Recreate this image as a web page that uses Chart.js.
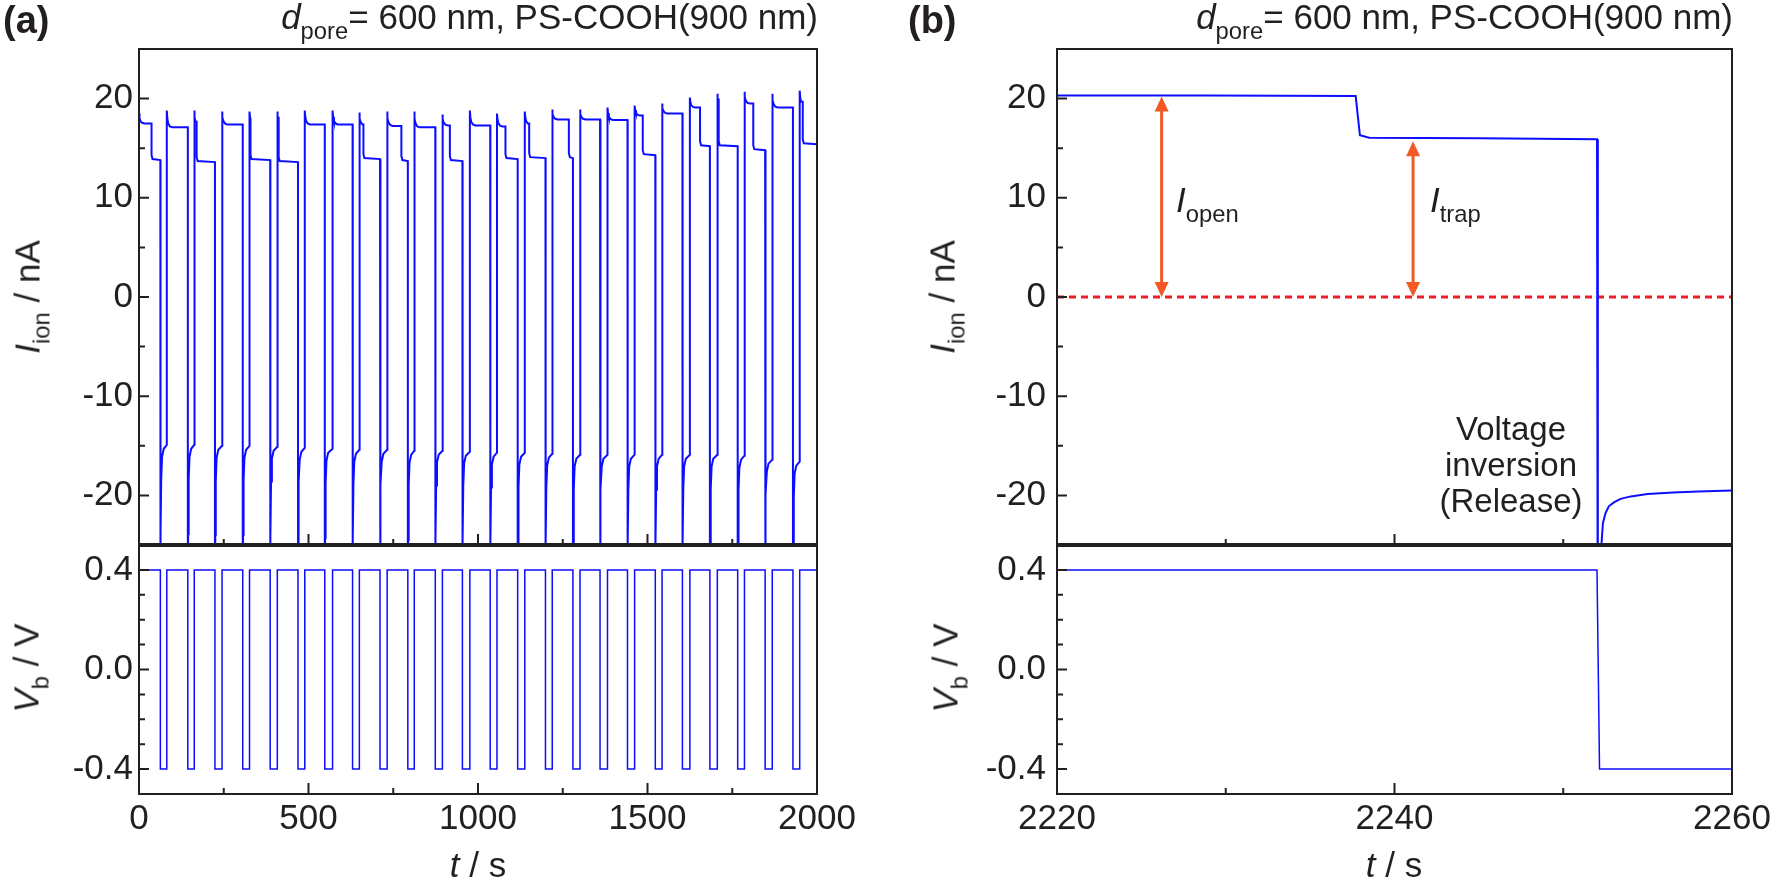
<!DOCTYPE html>
<html>
<head>
<meta charset="utf-8">
<script src="https://cdn.jsdelivr.net/npm/chart.js@4.4.1/dist/chart.umd.min.js"></script>
<style>
  html, body { margin: 0; padding: 0; background: #fff; }
  #page { position: relative; width: 1772px; height: 882px; overflow: hidden;
          font-family: 'Liberation Sans', Arial, sans-serif; color: #231f20; }
  canvas { position: absolute; left: 0; top: 0; }
  .txt { position: absolute; white-space: nowrap; line-height: 1; }
  .lab { font-size: 38px; font-weight: bold; }
  .ttl { font-size: 35px; }
  .sub { font-size: 0.68em; position: relative; top: 0.42em; }
  .ax { font-size: 35px; transform: translate(-50%, -50%) rotate(-90deg); }
  .xt { font-size: 35px; transform: translateX(-50%); }
  .note { font-size: 33px; line-height: 36px; text-align: center; transform: translateX(-50%); }
</style>
</head>
<body>
<div id="page">
  <canvas id="aTop" width="1772" height="882"></canvas>
  <canvas id="aBot" width="1772" height="882"></canvas>
  <canvas id="bTop" width="1772" height="882"></canvas>
  <canvas id="bBot" width="1772" height="882"></canvas>

  <div class="txt lab" style="left:3px;top:1px">(a)</div>
  <div class="txt lab" style="left:908px;top:1px">(b)</div>
  <div class="txt ttl" style="right:954px;top:-1px"><i>d</i><span class="sub">pore</span>= 600 nm, PS-COOH(900 nm)</div>
  <div class="txt ttl" style="right:39px;top:-1px"><i>d</i><span class="sub">pore</span>= 600 nm, PS-COOH(900 nm)</div>

  <div class="txt ax" style="left:27px;top:297px"><i>I</i><span class="sub">ion</span> / nA</div>
  <div class="txt ax" style="left:26px;top:668px"><i>V</i><span class="sub">b</span> / V</div>
  <div class="txt ax" style="left:942px;top:297px"><i>I</i><span class="sub">ion</span> / nA</div>
  <div class="txt ax" style="left:945px;top:668px"><i>V</i><span class="sub">b</span> / V</div>

  <div class="txt xt" style="left:478px;top:847px"><i>t</i> / s</div>
  <div class="txt xt" style="left:1394px;top:847px"><i>t</i> / s</div>

  <div class="txt" style="left:1176px;top:182px;font-size:35px"><i>I</i><span class="sub">open</span></div>
  <div class="txt" style="left:1430px;top:182px;font-size:35px"><i>I</i><span class="sub">trap</span></div>
  <div class="txt note" style="left:1511px;top:411px">Voltage<br>inversion<br>(Release)</div>
</div>

<script>
const INK = '#231f20';
const BLUE = '#0d0dff';
const RED = '#ee1c24';
const ORANGE = '#f15a24';
const TICK_FONT = { family: "'Liberation Sans', Arial, sans-serif", size: 35 };

// ---- (a) 0-2000 s, switching between +0.4 V and -0.4 V ----
const posStart = [0, 82, 163, 245, 326, 408, 489, 571, 650, 732, 812, 895, 976,
                  1056, 1138, 1219, 1301, 1382, 1462, 1543, 1625, 1706, 1786, 1868, 1949];
const negStart = [63, 144, 224, 306, 387, 469, 548, 630, 711, 793, 874, 954,
                  1036, 1117, 1199, 1280, 1360, 1441, 1523, 1603, 1684, 1766, 1847, 1929];
const biasLevels = [0.4, -0.4];
const spikeI = [18.5, 18.8, 18.8, 18.7, 18.7, 18.7, 18.8, 18.8, 18.6, 18.7, 18.7, 18.4, 18.8,
                18.5, 18.7, 18.9, 18.9, 19.1, 19.3, 19.5, 20.1, 20.5, 20.7, 20.5, 20.8];
const openI = [17.5, 17.1, 17.3, 17.4, 17.3, 17.3, 17.4, 17.4, 17.3, 17.25, 17.1, 17.3, 17.3,
               17.2, 17.4, 17.9, 17.9, 17.85, 18.3, 18.5, 19.1, 19.2, 19.5, 19.1, 19.3];
const trapT = [37, null, 170, null, 329, 412, null, null, 662, 774, null, 917, null,
               1081, 1151, 1268, null, null, 1486, null, 1655, 1710, 1812, null, 1958];
const trapI = [13.9, null, 13.7, null, 13.9, 13.7, null, null, 14.0, 13.8, null, 13.8, null,
               14.0, 14.1, 14.1, null, null, 14.4, null, 15.3, 15.3, 14.9, null, 15.5];
const negI = [-14.9, -14.9, -15.0, -15.0, -15.1, -15.2, -15.3, -15.4, -15.4, -15.5, -15.5, -15.6,
              -15.7, -15.7, -15.8, -15.9, -15.9, -15.9, -15.9, -15.9, -15.9, -16.0, -16.4, -16.6];
// shape of the relaxation after each switch (time offset s, fraction / offset nA)
const relax = [[0, 1], [1.5, 0.55], [4, 0.25], [9, 0.06], [16, 0]];
const negShape = [[0.1, -30], [1.0, -9], [2.5, -3.5], [5, -1.2], [10, -0.4]];

// ---- (b) 2220-2260 s, trap then release ----
const tB = [2220, 2229, 2237.7, 2237.95, 2238.5, 2245, 2252.0, 2252.05, 2252.25, 2252.35,
            2252.5, 2252.7, 2253.0, 2253.4, 2254.0, 2255, 2256.5, 2258, 2260];
const iB = [20.3, 20.3, 20.25, 16.3, 16.05, 16.0, 15.9, -45, -25.3, -22.8,
            -21.8, -21.1, -20.7, -20.35, -20.1, -19.85, -19.7, -19.6, -19.5];
const tBV = [2220, 2252.0, 2252.15, 2260];
const vB = [0.4, 0.4, -0.4, -0.4];
const zeroT = [2220, 2260];
const arrowT = [2226.2, 2241.1];
const arrowTop = [20.2, 15.7];

// tick labels
const xLabelsA = [0, 500, 1000, 1500, 2000];
const xLabelsB = [2220, 2240, 2260];
const yLabelsI = [-20, -10, 0, 10, 20];
const yLabelsV = [-0.4, 0.0, 0.4];

// build the (a) traces
const curA = [];
posStart.forEach((t0, k) => {
  const t1 = k < negStart.length ? negStart[k] : 2000;
  const tt = trapT[k] === null ? t1 : trapT[k];
  let last = spikeI[k];
  if (k > 0) curA.push({ x: t0, y: negI[k - 1] });
  relax.forEach(([dt, f]) => {
    if (t0 + dt < tt) {
      last = openI[k] + f * (spikeI[k] - openI[k]);
      curA.push({ x: t0 + dt, y: last });
    }
  });
  curA.push({ x: tt, y: last });
  if (trapT[k] !== null) {
    curA.push({ x: tt, y: trapI[k] + 0.4 });
    curA.push({ x: Math.min(tt + 3, t1), y: trapI[k] });
    curA.push({ x: t1, y: trapI[k] - 0.1 });
  }
  if (k < negStart.length) {
    negShape.forEach(([dt, off]) => curA.push({ x: t1 + dt, y: negI[k] + off }));
  }
});

const volA = [];
posStart.forEach((t0, k) => {
  if (k > 0) volA.push({ x: t0, y: biasLevels[1] });
  volA.push({ x: t0, y: biasLevels[0] });
  if (k < negStart.length) {
    volA.push({ x: negStart[k], y: biasLevels[0] });
    volA.push({ x: negStart[k], y: biasLevels[1] });
  } else {
    volA.push({ x: 2000, y: biasLevels[0] });
  }
});

const curB = tB.map((t, i) => ({ x: t, y: iB[i] }));
const volB = tBV.map((t, i) => ({ x: t, y: vB[i] }));
const zeroB = zeroT.map(t => ({ x: t, y: 0 }));

const near = (list, v) => list.some(l => Math.abs(l - v) < 1e-6);
const isMult = (v, m) => Math.abs(v / m - Math.round(v / m)) < 1e-6;

// box, inward ticks, thick separator
const frame = {
  id: 'frame',
  afterDatasetsDraw(chart, args, o) {
    const { ctx, chartArea: a, scales: { x, y } } = chart;
    ctx.save();
    ctx.strokeStyle = INK;
    ctx.lineWidth = 2;
    ctx.beginPath();
    x.ticks.forEach(t => {
      if (t.value <= x.min || t.value >= x.max) return;
      const px = x.getPixelForValue(t.value);
      const len = isMult(t.value, o.xMajor) ? 11 : 6;
      ctx.moveTo(px, a.bottom);
      ctx.lineTo(px, a.bottom - len);
    });
    y.ticks.forEach(t => {
      if (t.value <= y.min || t.value >= y.max) return;
      const py = y.getPixelForValue(t.value);
      const len = isMult(t.value, o.yMajor) ? 10 : 6;
      ctx.moveTo(a.left, py);
      ctx.lineTo(a.left + len, py);
    });
    ctx.stroke();
    ctx.strokeRect(a.left, a.top, a.right - a.left, a.bottom - a.top);
    if (o.thick) {
      ctx.lineWidth = 4;
      ctx.beginPath();
      ctx.moveTo(a.left - 1, a.bottom);
      ctx.lineTo(a.right + 1, a.bottom);
      ctx.stroke();
    }
    ctx.restore();
  }
};

// double-headed arrows for I_open and I_trap
const arrows = {
  id: 'arrows',
  afterDatasetsDraw(chart) {
    const { ctx, scales: { x, y } } = chart;
    ctx.save();
    ctx.strokeStyle = ORANGE;
    ctx.fillStyle = ORANGE;
    ctx.lineWidth = 3;
    arrowT.forEach((t, i) => {
      const px = x.getPixelForValue(t);
      const y0 = y.getPixelForValue(0);
      const y1 = y.getPixelForValue(arrowTop[i]);
      const hl = 15, hw = 7;
      ctx.beginPath();
      ctx.moveTo(px, y0 - hl + 2);
      ctx.lineTo(px, y1 + hl - 2);
      ctx.stroke();
      ctx.beginPath();
      ctx.moveTo(px, y1);
      ctx.lineTo(px - hw, y1 + hl);
      ctx.lineTo(px + hw, y1 + hl);
      ctx.closePath();
      ctx.moveTo(px, y0);
      ctx.lineTo(px - hw, y0 - hl);
      ctx.lineTo(px + hw, y0 - hl);
      ctx.closePath();
      ctx.fill();
    });
    ctx.restore();
  }
};

function makeChart(id, box, xc, yc, datasets, extra, usePlugins) {
  const W = 1772, H = 882;
  const xh = xc.labels ? 50 : 0;
  const cv = document.getElementById(id);
  const chart = new Chart(cv, {
    type: 'line',
    data: { datasets },
    options: {
      responsive: false,
      animation: false,
      events: [],
      layout: { padding: { left: box.l - 110, right: W - box.r, top: box.t, bottom: H - box.b - xh } },
      plugins: { legend: { display: false }, tooltip: { enabled: false }, frame: extra },
      elements: { point: { radius: 0 }, line: { tension: 0 } },
      scales: {
        x: {
          type: 'linear', min: xc.min, max: xc.max,
          grid: { display: false, drawTicks: false },
          border: { display: false },
          ticks: {
            display: !!xc.labels, stepSize: xc.step, autoSkip: false,
            maxRotation: 0, minRotation: 0, padding: 4, font: TICK_FONT, color: INK,
            callback: v => (xc.labels && near(xc.labels, v)) ? String(v) : ''
          },
          afterFit: s => { s.height = xh; s.paddingLeft = 0; s.paddingRight = 0; }
        },
        y: {
          type: 'linear', min: yc.min, max: yc.max,
          grid: { display: false, drawTicks: false },
          border: { display: false },
          ticks: {
            stepSize: yc.step, autoSkip: false, padding: yc.pad, font: TICK_FONT, color: INK,
            callback: v => near(yc.labels, v) ? yc.fmt(v) : ''
          },
          afterFit: s => { s.width = 110; s.paddingTop = 0; s.paddingBottom = 0; }
        }
      }
    },
    plugins: usePlugins
  });
  const a = chart.chartArea;
  cv.style.left = (box.l - a.left) + 'px';
  cv.style.top = (box.t - a.top) + 'px';
  return chart;
}

const fmtI = v => String(v);
const fmtV = v => v.toFixed(1);

makeChart('aTop', { l: 139, r: 817, t: 49, b: 545 },
  { min: 0, max: 2000, step: 250 },
  { min: -25, max: 25, step: 5, labels: yLabelsI, fmt: fmtI, pad: 6 },
  [{ data: curA, borderColor: BLUE, borderWidth: 2 }],
  { xMajor: 500, yMajor: 10, thick: true }, [frame]);

makeChart('aBot', { l: 139, r: 817, t: 545, b: 794 },
  { min: 0, max: 2000, step: 250, labels: xLabelsA },
  { min: -0.5, max: 0.5, step: 0.1, labels: yLabelsV, fmt: fmtV, pad: 6 },
  [{ data: volA, borderColor: BLUE, borderWidth: 1.5 }],
  { xMajor: 500, yMajor: 0.4 }, [frame]);

makeChart('bTop', { l: 1057, r: 1732, t: 49, b: 545 },
  { min: 2220, max: 2260, step: 10 },
  { min: -25, max: 25, step: 5, labels: yLabelsI, fmt: fmtI, pad: 11 },
  [{ data: curB, borderColor: BLUE, borderWidth: 2 },
   { data: zeroB, borderColor: RED, borderWidth: 3, borderDash: [7, 5] }],
  { xMajor: 20, yMajor: 10, thick: true }, [frame, arrows]);

makeChart('bBot', { l: 1057, r: 1732, t: 545, b: 794 },
  { min: 2220, max: 2260, step: 10, labels: xLabelsB },
  { min: -0.5, max: 0.5, step: 0.1, labels: yLabelsV, fmt: fmtV, pad: 11 },
  [{ data: volB, borderColor: BLUE, borderWidth: 1.5 }],
  { xMajor: 20, yMajor: 0.4 }, [frame]);
</script>
</body>
</html>
